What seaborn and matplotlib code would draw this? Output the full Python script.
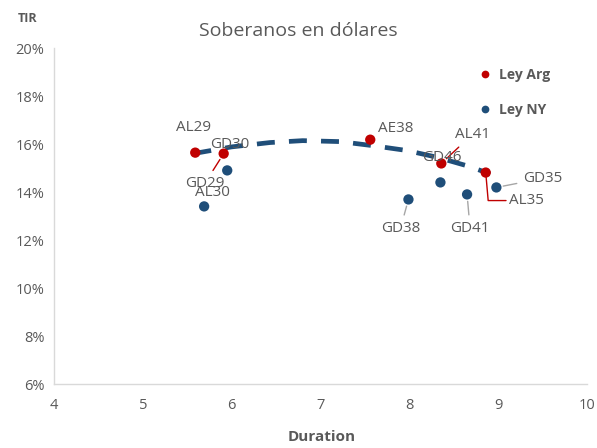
import matplotlib
matplotlib.use("Agg")
import matplotlib.pyplot as plt
import seaborn as sns
import pandas as pd

# ---- data ----
bonds = ["AL29", "GD29", "AE38", "AL41", "AL35",
         "GD30", "AL30", "GD38", "GD46", "GD41", "GD35"]
duration = [5.59, 5.91, 7.56, 8.36, 8.86,
            5.95, 5.69, 7.99, 8.35, 8.65, 8.98]
tir = [15.64, 15.60, 16.18, 15.19, 14.81,
       14.90, 13.40, 13.69, 14.40, 13.90, 14.19]
law = ["Ley Arg"] * 5 + ["Ley NY"] * 6

trend_x = [5.57, 6.0, 6.43, 6.80, 7.22, 7.59, 7.97, 8.31, 8.68, 8.91]
trend_y = [15.60, 15.88, 16.06, 16.14, 16.10, 15.93, 15.73, 15.45, 15.06, 14.75]

x_ticks = [4, 5, 6, 7, 8, 9, 10]
y_ticks = [6, 8, 10, 12, 14, 16, 18, 20]

df = pd.DataFrame({"bond": bonds, "Duration": duration, "TIR": tir, "law": law})
trend = pd.DataFrame({"x": trend_x, "y": trend_y})

RED = "#C00000"
BLUE = "#1F4E79"
GRAY = "#595959"

sns.set_theme(style="white")
plt.rcParams["font.family"] = ["Open Sans", "DejaVu Sans"]

fig = plt.figure(figsize=(5.97, 4.48), dpi=100)
ax = fig.add_axes([54 / 597, 1 - 384 / 448, (587 - 54) / 597, (384 - 48) / 448])

sns.lineplot(data=trend, x="x", y="y", ax=ax, color=BLUE, lw=3.4,
             linestyle=(0, (3.8, 3.0)), zorder=2, legend=False)
sns.scatterplot(data=df, x="Duration", y="TIR", hue="law",
                palette={"Ley Arg": RED, "Ley NY": BLUE},
                s=55, edgecolor="none", ax=ax, zorder=3)

ax.set_xlim(4, 10)
ax.set_ylim(6, 20)
ax.set_xticks(x_ticks)
ax.set_yticks(y_ticks)
ax.set_xticklabels([str(v) for v in x_ticks])
ax.set_yticklabels([f"{v}%" for v in y_ticks])
ax.tick_params(axis="both", labelsize=10.5, colors=GRAY)
ax.tick_params(axis="y", length=3, color="#D9D9D9", direction="out", width=0.8)
ax.tick_params(axis="x", length=0, pad=10)
ax.tick_params(axis="y", pad=4)
for s in ["top", "right"]:
    ax.spines[s].set_visible(False)
for s in ["left", "bottom"]:
    ax.spines[s].set_color("#D9D9D9")
    ax.spines[s].set_linewidth(1.0)
ax.set_xlabel("")
ax.set_ylabel("")

# labels: (dx, dy) offsets in pixels, leader color
label_cfg = {
    "AL29": (-2, 25, None, None),
    "GD29": (-19, -30, RED, None),
    "AE38": (25, 11, None, None),
    "AL41": (31, 29, RED, None),
    "AL35": (41, -28, RED, "angle"),
    "GD30": (3, 26, None, None),
    "AL30": (8, 14, None, None),
    "GD38": (-8, -29, "#A6A6A6", None),
    "GD46": (1, 25, None, None),
    "GD41": (3, -34, "#A6A6A6", None),
    "GD35": (46, 9, "#A6A6A6", None),
}
for b, x, y in zip(bonds, duration, tir):
    dx, dy, lc, style = label_cfg[b]
    kw = {}
    if lc is not None:
        if style == "angle":
            kw["arrowprops"] = dict(arrowstyle="-", color=lc, lw=1.0,
                                    shrinkA=0, shrinkB=3,
                                    connectionstyle="angle,angleA=0,angleB=95,rad=0",
                                    relpos=(0, 0.5))
        else:
            kw["arrowprops"] = dict(arrowstyle="-", color=lc, lw=1.0,
                                    shrinkA=2, shrinkB=5)
    ax.annotate(b, xy=(x, y), xytext=(dx, dy), textcoords="offset pixels",
                ha="center", va="center", fontsize=11, color=GRAY, zorder=4, **kw)

# legend
handles, labels_ = ax.get_legend_handles_labels()
leg = ax.legend(handles, labels_, loc="upper left", bbox_to_anchor=(0.772, 0.958),
                frameon=False, fontsize=10, handletextpad=0.0, labelspacing=1.5,
                markerscale=0.75, borderaxespad=0)
for t in leg.get_texts():
    t.set_color(GRAY)
    t.set_fontweight("bold")

fig.text(0.5, 1 - 31 / 448, "Soberanos en dólares", ha="center", va="center",
         fontsize=14, color=GRAY)
fig.text(28 / 597, 1 - 19 / 448, "TIR", ha="center", va="center",
         fontsize=9, fontweight="bold", color=GRAY)
fig.text(322 / 597, 1 - 437 / 448, "Duration", ha="center", va="center",
         fontsize=11, fontweight="bold", color=GRAY)

fig.savefig("out.png", dpi=100)
